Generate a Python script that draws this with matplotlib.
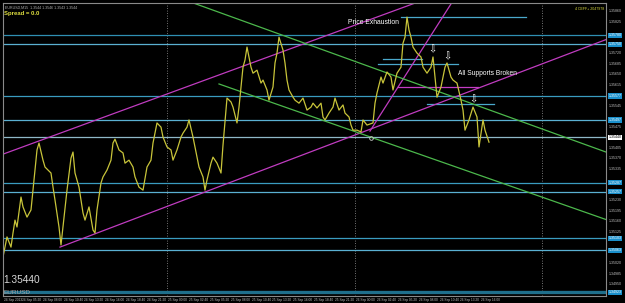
import matplotlib
matplotlib.use("Agg")
import matplotlib.pyplot as plt

# EURUSD M15 close, bar index vs price
bars = [0, 2, 4, 5, 6, 7, 9, 10, 12, 14, 15, 17, 18, 20, 21, 24, 25, 26, 28, 29,
        30, 32, 34, 35, 36, 38, 40, 41, 43, 45, 46, 47, 49, 50, 52, 54, 55, 56, 58, 60,
        61, 63, 65, 66, 68, 70, 72, 74, 75, 77, 79, 80, 82, 84, 85, 87, 89, 90, 92, 93,
        95, 96, 98, 100, 101, 102, 104, 105, 107, 109, 110, 112, 114, 115, 117, 118, 119, 120, 121, 122,
        124, 125, 127, 129, 130, 132, 133, 135, 136, 137, 138, 140, 141, 142, 143, 145, 146, 148, 150, 152,
        154, 155, 157, 159, 160, 161, 163, 165, 166, 168, 170, 171, 173, 174, 175, 177, 179, 180, 182, 185,
        186, 187, 189, 190, 192, 194, 195, 197, 199, 200, 201, 202, 203, 204, 205, 207, 209, 210, 212, 214,
        215, 216, 217, 219, 221, 222, 224, 225, 227, 229, 230, 231, 233, 235, 237, 238, 240, 241, 243]
prices = [1.35040, 1.35107, 1.35073, 1.35120, 1.35163, 1.35140, 1.35240, 1.35207, 1.35173, 1.35197,
          1.35263, 1.35397, 1.35420, 1.35363, 1.35340, 1.35320, 1.35273, 1.35230, 1.35140, 1.35080,
          1.35140, 1.35263, 1.35370, 1.35390, 1.35320, 1.35273, 1.35187, 1.35163, 1.35207, 1.35130,
          1.35120, 1.35197, 1.35287, 1.35307, 1.35330, 1.35363, 1.35420, 1.35433, 1.35397, 1.35387,
          1.35353, 1.35363, 1.35340, 1.35307, 1.35273, 1.35263, 1.35340, 1.35363, 1.35420, 1.35487,
          1.35473, 1.35440, 1.35407, 1.35397, 1.35363, 1.35397, 1.35440, 1.35453, 1.35473, 1.35497,
          1.35440, 1.35407, 1.35340, 1.35307, 1.35263, 1.35297, 1.35353, 1.35373, 1.35353, 1.35320,
          1.35413, 1.35570, 1.35557, 1.35540, 1.35487, 1.35540, 1.35607, 1.35673, 1.35697, 1.35740,
          1.35673, 1.35653, 1.35663, 1.35620, 1.35630, 1.35597, 1.35563, 1.35607, 1.35687, 1.35720,
          1.35773, 1.35730, 1.35687, 1.35630, 1.35597, 1.35573, 1.35563, 1.35553, 1.35570, 1.35530,
          1.35540, 1.35553, 1.35537, 1.35553, 1.35507, 1.35497, 1.35520, 1.35540, 1.35570, 1.35530,
          1.35547, 1.35520, 1.35507, 1.35480, 1.35463, 1.35463, 1.35457, 1.35497, 1.35480, 1.35487,
          1.35553, 1.35587, 1.35640, 1.35620, 1.35657, 1.35640, 1.35597, 1.35653, 1.35673, 1.35753,
          1.35773, 1.35840, 1.35797, 1.35773, 1.35740, 1.35720, 1.35707, 1.35673, 1.35653, 1.35673,
          1.35707, 1.35640, 1.35573, 1.35607, 1.35673, 1.35687, 1.35640, 1.35630, 1.35620, 1.35563,
          1.35530, 1.35463, 1.35497, 1.35540, 1.35507, 1.35407, 1.35497, 1.35463, 1.35423]

current_price = 1.35440

# horizontal support / resistance levels spanning the chart
levels = [1.35780, 1.35750, 1.35577, 1.35497, 1.35287, 1.35257, 1.35103, 1.35063]
level_colors = ["#2f8fb2", "#5ab0d2", "#3a9cc0", "#5ab0d2", "#3a9cc0", "#5ab0d2", "#3a9cc0", "#5ab0d2"]
bottom_level = 1.34923

# short levels: (start bar, end bar, price)
short_levels = [(199, 261.5, 1.35840), (190, 209.5, 1.35700), (187.5, 227.5, 1.35683), (212, 245.5, 1.35550)]
short_magenta = (197.5, 237.5, 1.35607)

# trend lines: two anchors each (bar, price)
magenta_upper = [(0, 1.35383), (200, 1.35872)]
magenta_lower = [(28.5, 1.35073), (301.5, 1.35765)]
magenta_steep = [(183.5, 1.35460), (222, 1.35863)]
green_upper = [(91, 1.35897), (301.5, 1.35390)]
green_lower = [(108, 1.35617), (301.5, 1.35165)]

day_separators = [82, 176, 269.5]

arrow_marks = [(214.5, 1.35733), (222, 1.35710), (235, 1.35567)]
zero_marks = [(184, 1.35437)]

price_ticks = [round(1.35860 - k * 0.00035, 5) for k in range(28)]
time_labels = ["24 Sep 2013", "24 Sep 05:20", "24 Sep 08:00", "24 Sep 10:40", "24 Sep 13:20",
               "24 Sep 16:00", "24 Sep 18:40", "24 Sep 21:20", "25 Sep 00:00", "25 Sep 02:40",
               "25 Sep 05:20", "25 Sep 08:00", "25 Sep 10:40", "25 Sep 13:20", "25 Sep 16:00",
               "25 Sep 18:40", "25 Sep 21:20", "26 Sep 00:00", "26 Sep 02:40", "26 Sep 05:20",
               "26 Sep 08:00", "26 Sep 10:40", "26 Sep 13:20", "26 Sep 16:00"]

plt.rcParams["font.family"] = ["Liberation Sans", "DejaVu Sans"]

fig = plt.figure(figsize=(6.25, 3.03), dpi=100, facecolor="black")
ax = fig.add_axes([3 / 625, 7 / 303, 603 / 625, 293 / 303], facecolor="black")
ax.set_xlim(0, 301.5)
ax.set_ylim(1.34910, 1.35887)
ax.set_xticks([])
ax.set_yticks([])
for sp in ax.spines.values():
    sp.set_color("#8a8a8a")
    sp.set_linewidth(0.8)

for x in day_separators:
    ax.axvline(x, color="#9a9a9a", lw=0.6, ls=(0, (1, 2)))

for p, c in zip(levels, level_colors):
    ax.axhline(p, color=c, lw=0.9)
ax.axhline(bottom_level, color="#1f6f8c", lw=2.4)
ax.axhline(current_price, color="#8fb8c8", lw=0.9)

for x0, x1, p in short_levels:
    ax.plot([x0, x1], [p, p], color="#4aa8cc", lw=0.9)
ax.plot([short_magenta[0], short_magenta[1]], [short_magenta[2]] * 2, color="#c43cc4", lw=0.9)

ax.axline(magenta_upper[0], magenta_upper[1], color="#c03cc0", lw=0.9)
ax.plot(*zip(*magenta_lower), color="#c03cc0", lw=0.9)
steep_slope = (magenta_steep[1][1] - magenta_steep[0][1]) / (magenta_steep[1][0] - magenta_steep[0][0])
ax.plot([magenta_steep[0][0], magenta_steep[1][0] + 10],
        [magenta_steep[0][1], magenta_steep[1][1] + steep_slope * 10],
        color="#c03cc0", lw=0.9)
ax.axline(green_upper[0], green_upper[1], color="#4cb84c", lw=0.9)
ax.plot(*zip(*green_lower), color="#4cb84c", lw=0.9)

ax.plot(bars, prices, color="#c8c43a", lw=0.9)

for x, p in arrow_marks:
    ax.text(x, p, "\u21e9", color="white", fontsize=7, ha="center", va="center",
            family="DejaVu Sans")
for x, p in zero_marks:
    ax.plot(x, p, "o", mfc="none", mec="#d0d0d0", ms=2.6, mew=0.6)

ax.text(172.5, 1.35823, "Price Exhaustion", color="white", fontsize=4.9, va="center", ha="left")
ax.text(227.5, 1.35653, "All Supports Broken", color="white", fontsize=4.8, va="center", ha="left")

# header texts
ax.text(0.004, 0.99, "EURUSD,M15  1.3544 1.3546 1.3543 1.3544", transform=ax.transAxes,
        color="#b0b0b0", fontsize=2.6, va="top", ha="left")
ax.text(0.002, 0.972, "Spread = 0.0", transform=ax.transAxes, color="#e0e040",
        fontsize=4.3, fontweight="bold", va="top", ha="left")
ax.text(0.997, 0.985, "4 CEFF+ 2047978", transform=ax.transAxes, color="#d8d840",
        fontsize=2.6, va="top", ha="right")
ax.text(0.0, 1.34963, "1.35440", color="#d8d8d8", fontsize=7.3, va="center", ha="left")
ax.text(0.5, bottom_level, "EURUSD", color="#a8a8a8", fontsize=4.6, va="center", ha="left")

# right price scale
ytr = ax.get_yaxis_transform()
boxed = levels + [bottom_level, current_price]
for p in price_ticks:
    if min(abs(p - b) for b in boxed) < 0.00016:
        continue
    ax.text(1.004, p, f"{p:.5f}", transform=ytr, color="#c0c0c0", fontsize=2.6,
            va="center", ha="left", clip_on=False)
for p in levels + [bottom_level]:
    ax.text(1.004, p, f"{p:.5f}", transform=ytr, color="white", fontsize=2.6, va="center",
            ha="left", clip_on=False,
            bbox=dict(boxstyle="square,pad=0.15", fc="#1a90cc", ec="none"))
ax.text(1.004, current_price, f"{current_price:.5f}", transform=ytr, color="black", fontsize=2.6,
        va="center", ha="left", clip_on=False,
        bbox=dict(boxstyle="square,pad=0.15", fc="white", ec="none"))

# bottom time scale
xtr = ax.get_xaxis_transform()
for k, lab in enumerate(time_labels):
    pos = 0 if k == 0 else 82 + (k - 8) * 94 / 9
    ax.text(pos + 0.5, -0.012, lab, transform=xtr, color="#c0c0c0", fontsize=2.3,
            va="center", ha="left", clip_on=False)

fig.savefig("out.png", dpi=100, facecolor="black")
